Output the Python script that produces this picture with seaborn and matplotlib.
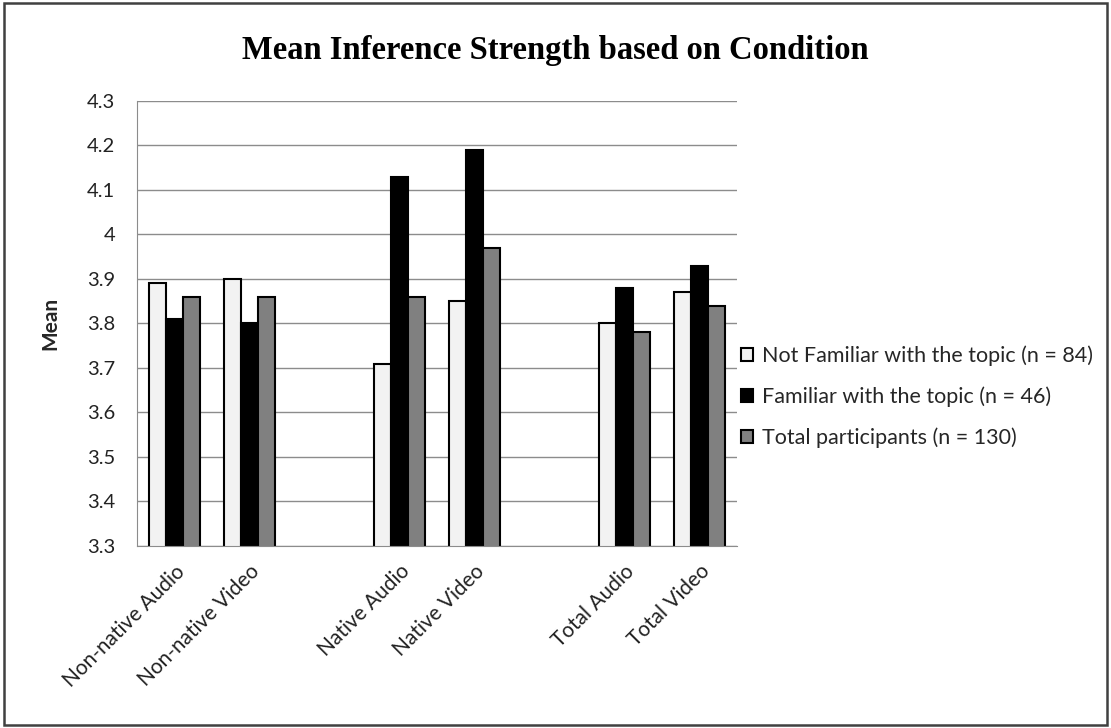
import matplotlib
matplotlib.use("Agg")
import matplotlib.pyplot as plt
import seaborn as sns
import pandas as pd
from matplotlib.patches import Rectangle, Patch

categories = ["Non-native Audio", "Non-native Video", " ", "Native Audio", "Native Video",
              "  ", "Total Audio", "Total Video"]
data_categories = ["Non-native Audio", "Non-native Video", "Native Audio", "Native Video",
                   "Total Audio", "Total Video"]
series_names = ["Not Familiar with the topic (n = 84)",
                "Familiar with the topic (n = 46)",
                "Total participants (n = 130)"]
not_familiar = [3.89, 3.90, 3.71, 3.85, 3.80, 3.87]
familiar = [3.81, 3.80, 4.13, 4.19, 3.88, 3.93]
total = [3.86, 3.86, 3.86, 3.97, 3.78, 3.84]
yticks = [3.3, 3.4, 3.5, 3.6, 3.7, 3.8, 3.9, 4.0, 4.1, 4.2, 4.3]
ytick_labels = ["3.3", "3.4", "3.5", "3.6", "3.7", "3.8", "3.9", "4", "4.1", "4.2", "4.3"]
colors = ["#F2F2F2", "#000000", "#808080"]

rows = []
for name, vals in zip(series_names, [not_familiar, familiar, total]):
    for c, v in zip(data_categories, vals):
        rows.append({"Condition": c, "Group": name, "Mean": v})
df = pd.DataFrame(rows)

sns.set_style("white")
plt.rcParams["font.family"] = ["Lato", "DejaVu Sans"]

fig = plt.figure(figsize=(11.11, 7.28), dpi=100)
ax = fig.add_axes([0.1233, 0.25, 0.54, 0.6113])

sns.barplot(data=df, x="Condition", y="Mean", hue="Group", order=categories,
            hue_order=series_names, palette=colors, width=0.68,
            edgecolor="black", linewidth=1.5, ax=ax, legend=False)

ax.set_ylim(3.3, 4.3)
ax.set_xlim(-0.5, len(categories) - 0.5)
ax.set_yticks(yticks)
ax.set_yticklabels(ytick_labels, fontsize=14.5, color="#222222")
ax.yaxis.grid(True, color="#8c8c8c", linewidth=1)
ax.set_axisbelow(True)
for s in ["top", "right"]:
    ax.spines[s].set_visible(False)
ax.spines["left"].set_color("#8c8c8c")
ax.spines["bottom"].set_color("#8c8c8c")
ax.tick_params(axis="y", length=5.8, color="#8c8c8c", width=1, pad=10)
ax.tick_params(axis="x", length=0, pad=11)
ax.set_xticks(range(len(categories)))
ax.set_xticklabels(categories, rotation=45, ha="right", rotation_mode="anchor",
                   fontsize=15, color="#222222")
ax.set_xlabel("")
ax.set_ylabel("Mean", fontsize=15, fontweight="bold")
ax.yaxis.set_label_coords(-0.128, 0.5)

handles = [Patch(facecolor=c, edgecolor="black", linewidth=1.5) for c in colors]
fig.legend(handles, series_names, loc="center left", bbox_to_anchor=(0.667, 0.4547),
           frameon=False, fontsize=15.5, handlelength=0.56, handleheight=0.56,
           handletextpad=0.4, labelspacing=0.95, borderpad=0, borderaxespad=0)

fig.text(0.5, 0.931, "Mean Inference Strength based on Condition", ha="center", va="center",
         fontsize=23.5, fontweight="bold", family="Liberation Serif", color="black")

fig.patches.append(Rectangle((0.004, 0.004), 0.992, 0.992, transform=fig.transFigure,
                             fill=False, edgecolor="#404040", linewidth=1.8))

fig.savefig("out.png", dpi=100)
